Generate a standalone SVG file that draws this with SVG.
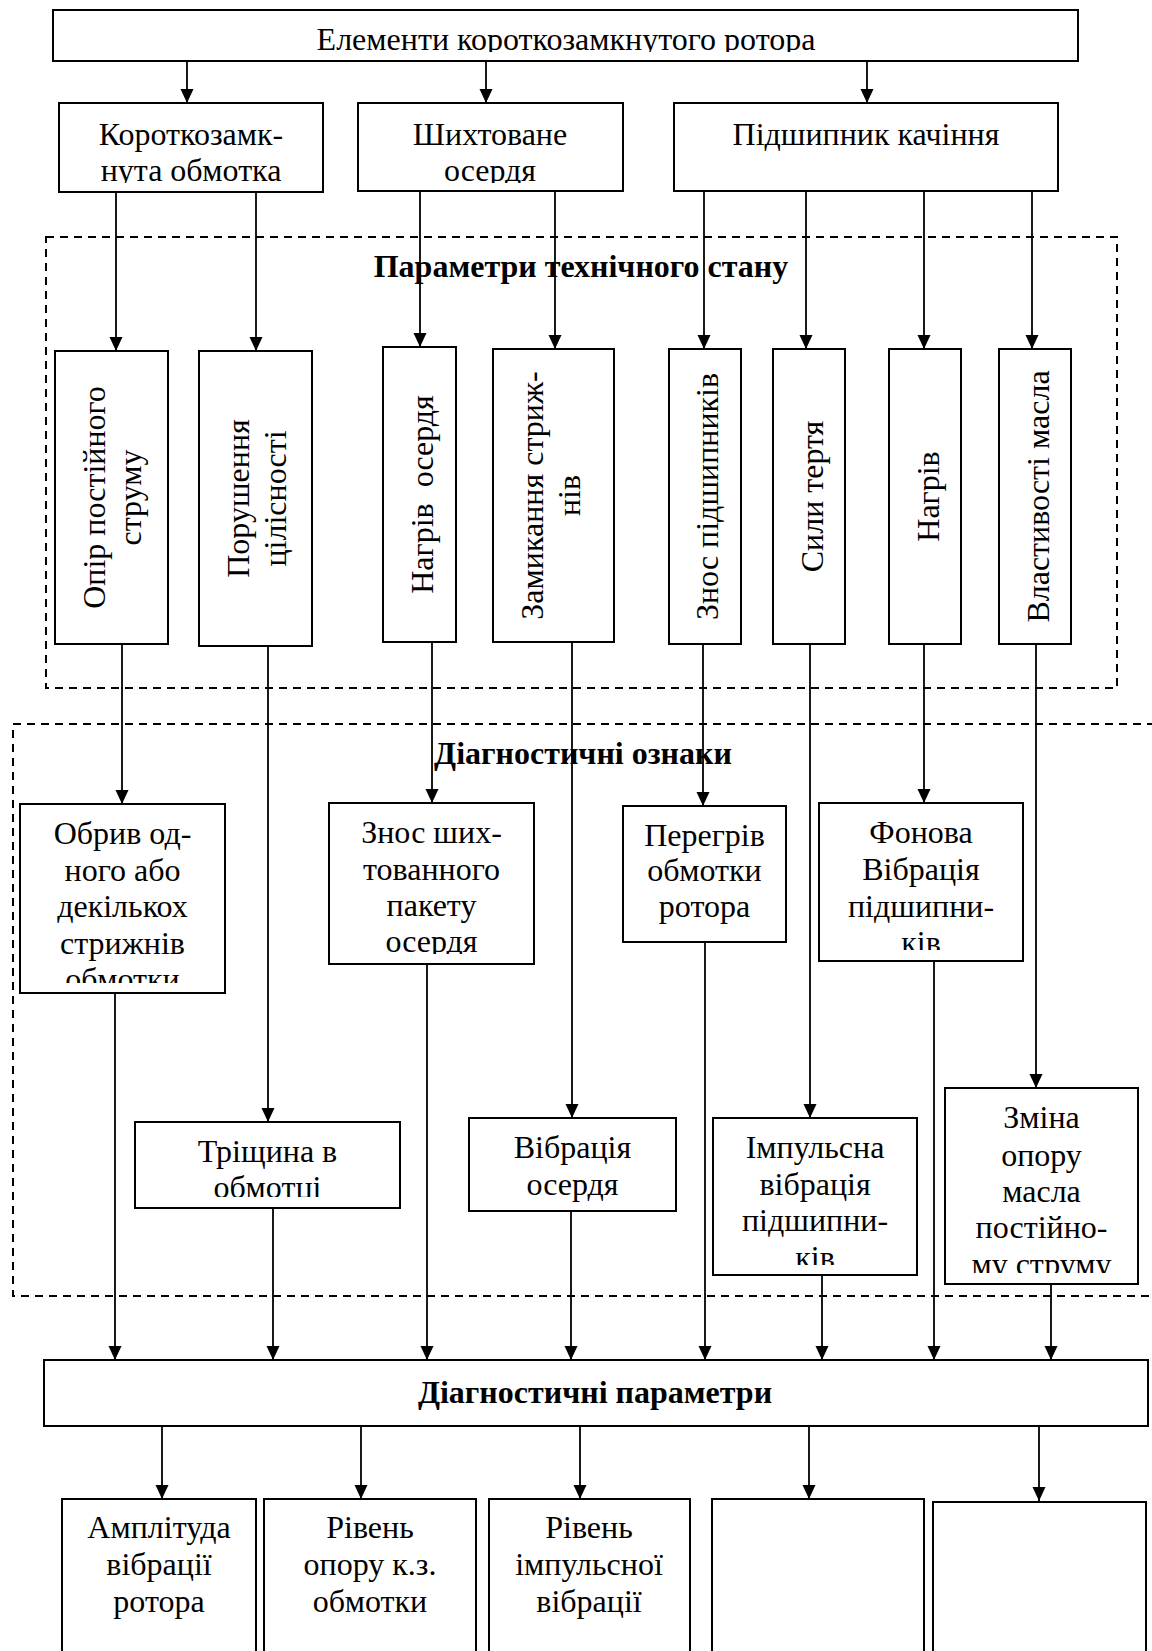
<svg xmlns="http://www.w3.org/2000/svg" width="1152" height="1651" viewBox="0 0 1152 1651">
<style>
.box{fill:#fff;stroke:#000;stroke-width:2}
.dash{fill:none;stroke:#000;stroke-width:2;stroke-dasharray:8 6}
.t{font-family:"Liberation Serif","Times New Roman",serif;font-size:32px;text-anchor:middle;fill:#000}
.b{font-weight:bold}
#connectors line{stroke:#000;stroke-width:1.8;marker-end:url(#arr)}
</style>
<defs>
<marker id="arr" markerUnits="userSpaceOnUse" markerWidth="14" markerHeight="14" viewBox="0 0 14 14" refX="14" refY="7" orient="auto"><path d="M0,0.5 L14,7 L0,13.5 z" fill="#000"/></marker>
<clipPath id="cTop"><rect x="53" y="10" width="1025" height="42"/></clipPath>
<clipPath id="cA"><rect x="59" y="103" width="264" height="80"/></clipPath>
<clipPath id="cB"><rect x="358" y="103" width="265" height="80"/></clipPath>
<clipPath id="cM1"><rect x="20" y="804" width="205" height="179"/></clipPath>
<clipPath id="cM2"><rect x="329" y="803" width="205" height="151"/></clipPath>
<clipPath id="cM4"><rect x="819" y="803" width="204" height="147"/></clipPath>
<clipPath id="cL1"><rect x="135" y="1122" width="265" height="75"/></clipPath>
<clipPath id="cL3"><rect x="713" y="1118" width="204" height="147"/></clipPath>
<clipPath id="cL4"><rect x="945" y="1088" width="193" height="185"/></clipPath>
</defs>
<rect width="1152" height="1651" fill="#fff"/>

<g id="group-technical-state">
<rect class="dash" x="46" y="237" width="1071" height="451"/>
<text class="t b" x="581" y="277">Параметри технічного стану</text>
</g>
<g id="group-diagnostic-signs">
<rect class="dash" x="13" y="724" width="1150" height="572"/>
<text class="t b" x="583" y="764">Діагностичні ознаки</text>
</g>

<g id="connectors">
<line x1="187" y1="61" x2="187" y2="103"/>
<line x1="486" y1="61" x2="486" y2="103"/>
<line x1="867" y1="61" x2="867" y2="103"/>
<line x1="116" y1="192" x2="116" y2="351"/>
<line x1="256" y1="192" x2="256" y2="351"/>
<line x1="420" y1="191" x2="420" y2="347"/>
<line x1="555" y1="191" x2="555" y2="349"/>
<line x1="704" y1="191" x2="704" y2="349"/>
<line x1="806" y1="191" x2="806" y2="349"/>
<line x1="924" y1="191" x2="924" y2="349"/>
<line x1="1032" y1="191" x2="1032" y2="349"/>
<line x1="122" y1="644" x2="122" y2="804"/>
<line x1="268" y1="646" x2="268" y2="1122"/>
<line x1="432" y1="642" x2="432" y2="803"/>
<line x1="572" y1="642" x2="572" y2="1118"/>
<line x1="703" y1="644" x2="703" y2="806"/>
<line x1="810" y1="644" x2="810" y2="1118"/>
<line x1="924" y1="644" x2="924" y2="803"/>
<line x1="1036" y1="644" x2="1036" y2="1088"/>
<line x1="115" y1="993" x2="115" y2="1360"/>
<line x1="273" y1="1208" x2="273" y2="1360"/>
<line x1="427" y1="964" x2="427" y2="1360"/>
<line x1="571" y1="1211" x2="571" y2="1360"/>
<line x1="705" y1="942" x2="705" y2="1360"/>
<line x1="822" y1="1275" x2="822" y2="1360"/>
<line x1="934" y1="961" x2="934" y2="1360"/>
<line x1="1051" y1="1284" x2="1051" y2="1360"/>
<line x1="162" y1="1426" x2="162" y2="1499"/>
<line x1="361" y1="1426" x2="361" y2="1499"/>
<line x1="580" y1="1426" x2="580" y2="1499"/>
<line x1="809" y1="1426" x2="809" y2="1499"/>
<line x1="1039" y1="1426" x2="1039" y2="1501"/>
</g>

<g id="node-elements">
<rect class="box" x="53" y="10" width="1025" height="51"/>
<text class="t" x="566" y="50" clip-path="url(#cTop)">Елементи короткозамкнутого ротора</text>
</g>
<g id="node-winding">
<rect class="box" x="59" y="103" width="264" height="89"/>
<g clip-path="url(#cA)"><text class="t" x="191"><tspan x="191" y="145">Короткозамк-</tspan><tspan x="191" y="181">нута обмотка</tspan></text></g>
</g>
<g id="node-core">
<rect class="box" x="358" y="103" width="265" height="88"/>
<g clip-path="url(#cB)"><text class="t"><tspan x="490" y="145">Шихтоване</tspan><tspan x="490" y="181">осердя</tspan></text></g>
</g>
<g id="node-bearing">
<rect class="box" x="674" y="103" width="384" height="88"/>
<text class="t" x="866" y="145">Підшипник качіння</text>
</g>

<g id="node-dc-resistance">
<rect class="box" x="55" y="351" width="113" height="293"/>
<text class="t" transform="translate(111.5,497.5) rotate(-90)"><tspan x="0" y="-7">Опір постійного</tspan><tspan x="0" y="29.5">струму</tspan></text>
</g>
<g id="node-integrity">
<rect class="box" x="199" y="351" width="113" height="295"/>
<text class="t" transform="translate(255.5,498.5) rotate(-90)"><tspan x="0" y="-6.5">Порушення</tspan><tspan x="0" y="30">цілісності</tspan></text>
</g>
<g id="node-core-heating">
<rect class="box" x="383" y="347" width="73" height="295"/>
<text class="t" transform="translate(419.5,494.5) rotate(-90)" y="13.5" xml:space="preserve">Нагрів  осердя</text>
</g>
<g id="node-bar-short">
<rect class="box" x="493" y="349" width="121" height="293"/>
<text class="t" transform="translate(553.5,495.5) rotate(-90)"><tspan x="0" y="-10.5">Замикання стриж-</tspan><tspan x="0" y="26.5">нів</tspan></text>
</g>
<g id="node-bearing-wear">
<rect class="box" x="669" y="349" width="72" height="295"/>
<text class="t" transform="translate(705,496.5) rotate(-90)" y="12.5">Знос підшипників</text>
</g>
<g id="node-friction">
<rect class="box" x="773" y="349" width="72" height="295"/>
<text class="t" transform="translate(809,496.5) rotate(-90)" y="13.5">Сили тертя</text>
</g>
<g id="node-heating">
<rect class="box" x="889" y="349" width="72" height="295"/>
<text class="t" transform="translate(925,496.5) rotate(-90)" y="13.5">Нагрів</text>
</g>
<g id="node-oil">
<rect class="box" x="999" y="349" width="72" height="295"/>
<text class="t" transform="translate(1035,496.5) rotate(-90)" y="13.5">Властивості масла</text>
</g>

<g id="node-bar-break">
<rect class="box" x="20" y="804" width="205" height="189"/>
<g clip-path="url(#cM1)"><text class="t"><tspan x="122.5" y="844">Обрив од-</tspan><tspan x="122.5" y="880.5">ного або</tspan><tspan x="122.5" y="917">декількох</tspan><tspan x="122.5" y="953.5">стрижнів</tspan><tspan x="122.5" y="990">обмотки</tspan></text></g>
</g>
<g id="node-core-wear">
<rect class="box" x="329" y="803" width="205" height="161"/>
<g clip-path="url(#cM2)"><text class="t"><tspan x="431.5" y="843">Знос ших-</tspan><tspan x="431.5" y="880">тованного</tspan><tspan x="431.5" y="916">пакету</tspan><tspan x="431.5" y="952">осердя</tspan></text></g>
</g>
<g id="node-overheat">
<rect class="box" x="623" y="806" width="163" height="136"/>
<text class="t"><tspan x="704.5" y="846">Перегрів</tspan><tspan x="704.5" y="881">обмотки</tspan><tspan x="704.5" y="917">ротора</tspan></text>
</g>
<g id="node-background-vibration">
<rect class="box" x="819" y="803" width="204" height="158"/>
<g clip-path="url(#cM4)"><text class="t"><tspan x="921" y="843">Фонова</tspan><tspan x="921" y="880">Вібрація</tspan><tspan x="921" y="917">підшипни-</tspan><tspan x="921" y="953">ків</tspan></text></g>
</g>
<g id="node-crack">
<rect class="box" x="135" y="1122" width="265" height="86"/>
<g clip-path="url(#cL1)"><text class="t"><tspan x="267.5" y="1162">Тріщина в</tspan><tspan x="267.5" y="1198">обмотці</tspan></text></g>
</g>
<g id="node-core-vibration">
<rect class="box" x="469" y="1118" width="207" height="93"/>
<text class="t"><tspan x="572.5" y="1158">Вібрація</tspan><tspan x="572.5" y="1195">осердя</tspan></text>
</g>
<g id="node-impulse-vibration">
<rect class="box" x="713" y="1118" width="204" height="157"/>
<g clip-path="url(#cL3)"><text class="t"><tspan x="815" y="1158">Імпульсна</tspan><tspan x="815" y="1195">вібрація</tspan><tspan x="815" y="1231">підшипни-</tspan><tspan x="815" y="1268">ків</tspan></text></g>
</g>
<g id="node-oil-resistance">
<rect class="box" x="945" y="1088" width="193" height="196"/>
<g clip-path="url(#cL4)"><text class="t"><tspan x="1041.5" y="1128">Зміна</tspan><tspan x="1041.5" y="1166">опору</tspan><tspan x="1041.5" y="1202">масла</tspan><tspan x="1041.5" y="1238">постійно-</tspan><tspan x="1041.5" y="1275">му струму</tspan></text></g>
</g>

<g id="node-diagnostic-parameters">
<rect class="box" x="44" y="1360" width="1104" height="66"/>
<text class="t b" x="595" y="1403">Діагностичні параметри</text>
</g>
<g id="node-rotor-amplitude">
<rect class="box" x="62" y="1499" width="194" height="170"/>
<text class="t"><tspan x="159" y="1538">Амплітуда</tspan><tspan x="159" y="1575">вібрації</tspan><tspan x="159" y="1612">ротора</tspan></text>
</g>
<g id="node-resistance-level">
<rect class="box" x="264" y="1499" width="212" height="170"/>
<text class="t"><tspan x="370" y="1538">Рівень</tspan><tspan x="370" y="1575">опору к.з.</tspan><tspan x="370" y="1612">обмотки</tspan></text>
</g>
<g id="node-impulse-level">
<rect class="box" x="489" y="1499" width="201" height="170"/>
<text class="t"><tspan x="589" y="1538">Рівень</tspan><tspan x="589" y="1575">імпульсної</tspan><tspan x="589" y="1612">вібрації</tspan></text>
</g>
<g id="node-empty-1">
<rect class="box" x="712" y="1499" width="212" height="170"/>
</g>
<g id="node-empty-2">
<rect class="box" x="933" y="1502" width="213" height="170"/>
</g>
</svg>
